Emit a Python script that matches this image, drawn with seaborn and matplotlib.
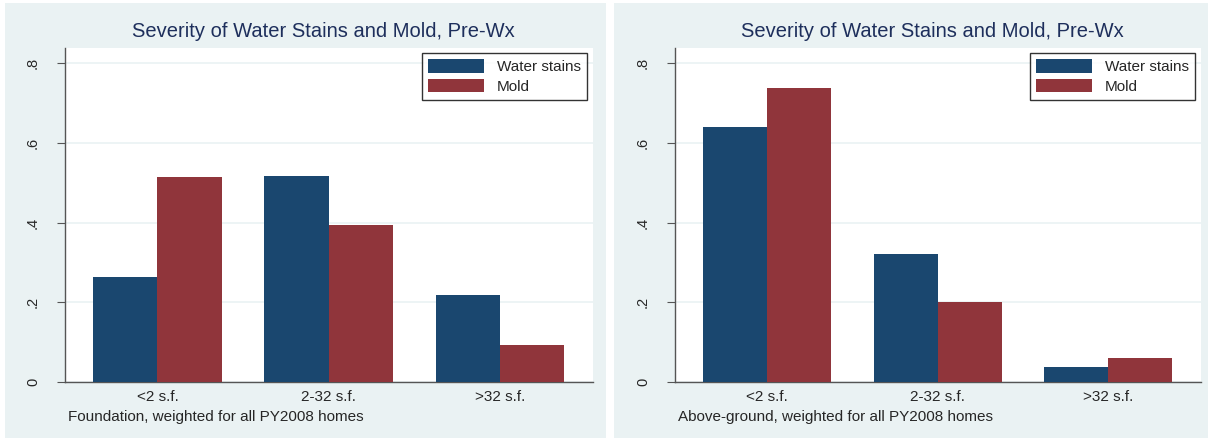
import numpy as np
import matplotlib
matplotlib.use('Agg')
import matplotlib.pyplot as plt
import pandas as pd
import seaborn as sns
from matplotlib.patches import Rectangle

# data
categories = ['<2 s.f.', '2-32 s.f.', '>32 s.f.']
series = ['Water stains', 'Mold']
foundation_stains = [0.264, 0.518, 0.218]
foundation_mold = [0.514, 0.394, 0.092]
above_stains = [0.640, 0.322, 0.037]
above_mold = [0.737, 0.201, 0.061]
yticks = [0, 0.2, 0.4, 0.6, 0.8]
ytick_labels = ['0', '.2', '.4', '.6', '.8']
title = 'Severity of Water Stains and Mold, Pre-Wx'
notes = ['Foundation, weighted for all PY2008 homes',
         'Above-ground, weighted for all PY2008 homes']

navy = '#1a476f'
maroon = '#90353b'
title_col = '#1e2f5c'
panel_bg = '#eaf2f3'

sns.set_style('white')
plt.rcParams['font.family'] = ['Liberation Sans', 'DejaVu Sans']


def long_df(stains, mold):
    return pd.DataFrame({
        'cat': categories * 2,
        'series': [series[0]] * 3 + [series[1]] * 3,
        'value': stains + mold,
    })


fig = plt.figure(figsize=(12.08, 4.4), dpi=100)
fig.patch.set_facecolor('white')

# panel backgrounds (two separate graphs side by side)
fig.patches.append(Rectangle((5 / 1208, 2 / 440), 601 / 1208, 435 / 440,
                             transform=fig.transFigure, facecolor=panel_bg,
                             edgecolor='none', zorder=-10))
fig.patches.append(Rectangle((614 / 1208, 2 / 440), 594 / 1208, 435 / 440,
                             transform=fig.transFigure, facecolor=panel_bg,
                             edgecolor='none', zorder=-10))

panels = [
    (65, 593, long_df(foundation_stains, foundation_mold), notes[0], 68),
    (675, 1201, long_df(above_stains, above_mold), notes[1], 678),
]

for x0, x1, df, note, note_x in panels:
    ax = fig.add_axes([x0 / 1208, (440 - 382) / 440, (x1 - x0) / 1208, (382 - 48) / 440])
    ax.set_facecolor('white')
    sns.barplot(data=df, x='cat', y='value', hue='series', order=categories,
                hue_order=series, palette=[navy, maroon], width=0.75,
                linewidth=0, saturation=1, ax=ax, zorder=3)
    ax.set_xlim(-0.54, 2.545)
    ax.set_ylim(0, 0.838)
    ax.set_yticks(yticks)
    ax.set_yticklabels(ytick_labels, rotation=90, va='center', fontsize=10.5)
    ax.yaxis.grid(True, color=panel_bg, linewidth=1.2, zorder=0)
    ax.set_axisbelow(True)
    ax.tick_params(axis='y', length=6, width=0.8, color='#555555', pad=12, left=True)
    ax.tick_params(axis='x', length=0, labelsize=11, pad=6)
    for s in ['top', 'right']:
        ax.spines[s].set_visible(False)
    for s in ['left', 'bottom']:
        ax.spines[s].set_color('#555555')
        ax.spines[s].set_linewidth(1.0)
    ax.set_xlabel('')
    ax.set_ylabel('')
    ax.set_title(title, color=title_col, fontsize=14.5, pad=8, x=0.49)
    leg = ax.legend(loc='upper right', bbox_to_anchor=(0.988, 0.985),
                    frameon=True, fancybox=False, fontsize=11,
                    handlelength=3.7, handleheight=1.0, borderpad=0.4,
                    labelspacing=0.3, handletextpad=0.8, borderaxespad=0)
    leg.get_frame().set_edgecolor('black')
    leg.get_frame().set_linewidth(1.0)
    fig.text(note_x / 1208, 1 - 417 / 440, note, fontsize=11, va='center', ha='left')

fig.savefig('out.png', dpi=100)
